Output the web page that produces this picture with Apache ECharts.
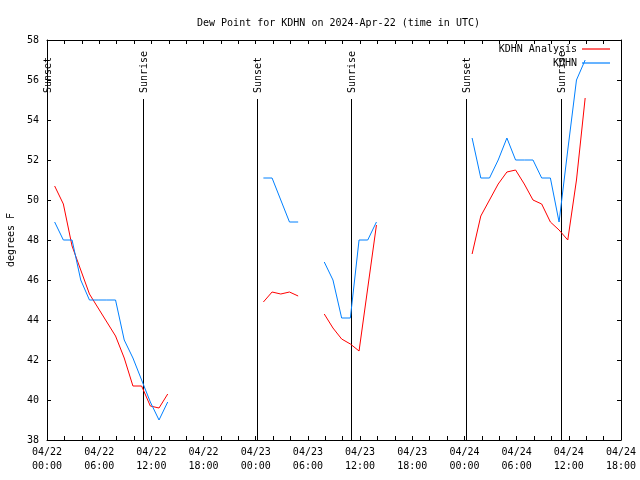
<!DOCTYPE html>
<html>
<head>
<meta charset="utf-8">
<script src="https://cdn.jsdelivr.net/npm/echarts@6/dist/echarts.min.js"></script>
<style>
html,body{margin:0;padding:0;background:#fff;}
#chart{width:640px;height:480px;}
</style>
</head>
<body>
<div id="chart"></div>
<script>
// Hours after 2024-04-22 00:00 UTC for each reading
var hours = [];
for (var i = 0; i < 62; i++) { hours.push(0.88 + i); }

// KDHN Analysis (red)
var analysis = [
  50.7, 49.8, 47.7, 46.5, 45.3, 44.6, 43.9, 43.2, 42.1, 40.7, 40.7, 39.7, 39.6, 40.3,
  null, null, null, null, null, null, null, null, null, null,
  44.9, 45.4, 45.3, 45.4, 45.2,
  null, null,
  44.3, 43.6, 43.05, 42.8, 42.45, 45.6, 48.75,
  null, null, null, null, null, null, null, null, null, null,
  47.3, 49.2, 50.0, 50.8, 51.4, 51.5, 50.8, 50.0, 49.8, 48.9, 48.5, 48.0, 51.0, 55.1
];

// KDHN observations (blue)
var observed = [
  48.9, 48.0, 48.0, 46.0, 45.0, 45.0, 45.0, 45.0, 43.0, 42.1, 41.0, 39.9, 39.0, 39.9,
  null, null, null, null, null, null, null, null, null, null,
  51.1, 51.1, 50.0, 48.9, 48.9,
  null, null,
  46.9, 46.0, 44.1, 44.1, 48.0, 48.0, 48.9,
  null, null, null, null, null, null, null, null, null, null,
  53.1, 51.1, 51.1, 52.0, 53.1, 52.0, 52.0, 52.0, 51.1, 51.1, 48.9, 52.5, 56.0, 57.0
];

// Sunset / sunrise events (hours after 04/22 00:00 UTC)
var sunHours = [0.05, 11.09, 24.12, 34.95, 48.2, 59.07];
var sunLabels = ['Sunset', 'Sunrise', 'Sunset', 'Sunrise', 'Sunset', 'Sunrise'];
var sunLineTop = 55.05;

var titleText = 'Dew Point for KDHN on 2024-Apr-22 (time in UTC)';
var seriesNames = ['KDHN Analysis', 'KDHN'];

var MONO = 'DejaVu Sans Mono';

function pair(xs, ys) {
  return xs.map(function (x, i) { return [x, ys[i]]; });
}

function xLabel(v) {
  var day = 22 + Math.floor(v / 24);
  var hr = v % 24;
  return '04/' + day + '\n' + (hr < 10 ? '0' : '') + hr + ':00';
}

var chart = echarts.init(document.getElementById('chart'), null, {renderer: 'canvas'});

var axisLineStyle = {color: '#000', width: 1};

chart.setOption({
  animation: false,
  backgroundColor: '#fff',
  title: {
    text: titleText,
    left: 192,
    top: 13,
    textStyle: {fontFamily: MONO, fontSize: 10, fontWeight: 'normal', color: '#000'}
  },
  legend: {
    data: [{name: seriesNames[0], icon: 'rect'}, {name: seriesNames[1], icon: 'rect'}],
    orient: 'vertical',
    right: 30,
    top: 43,
    align: 'right',
    itemWidth: 28,
    itemHeight: 1.2,
    itemGap: 2,
    padding: 0,
    textStyle: {fontFamily: MONO, fontSize: 10, color: '#000', lineHeight: 12}
  },
  grid: {left: 47, right: 19, top: 40, bottom: 40, containLabel: false, outerBoundsMode: 'none'},
  xAxis: [{
    type: 'value', min: 0, max: 66, interval: 6, position: 'bottom',
    axisLine: {show: true, onZero: false, lineStyle: axisLineStyle},
    axisTick: {show: true, inside: true, length: 4, lineStyle: axisLineStyle},
    minorTick: {show: true, splitNumber: 3, length: 4, lineStyle: axisLineStyle},
    splitLine: {show: false},
    axisLabel: {formatter: xLabel, fontFamily: MONO, fontSize: 10, color: '#000', lineHeight: 14, margin: 5}
  }, {
    type: 'value', min: 0, max: 66, interval: 6, position: 'top',
    axisLine: {show: true, onZero: false, lineStyle: axisLineStyle},
    axisTick: {show: true, inside: true, length: 4, lineStyle: axisLineStyle},
    minorTick: {show: true, splitNumber: 3, length: 4, lineStyle: axisLineStyle},
    splitLine: {show: false},
    axisLabel: {show: false}
  }],
  yAxis: [{
    type: 'value', min: 38, max: 58, interval: 2, position: 'left',
    name: 'degrees F', nameLocation: 'middle', nameGap: 31,
    nameTextStyle: {fontFamily: MONO, fontSize: 10, color: '#000'},
    axisLine: {show: true, onZero: false, lineStyle: axisLineStyle},
    axisTick: {show: true, inside: true, length: 4, lineStyle: axisLineStyle},
    splitLine: {show: false},
    axisLabel: {fontFamily: MONO, fontSize: 10, color: '#000', margin: 8}
  }, {
    type: 'value', min: 38, max: 58, interval: 2, position: 'right',
    axisLine: {show: true, onZero: false, lineStyle: axisLineStyle},
    axisTick: {show: true, inside: true, length: 4, lineStyle: axisLineStyle},
    splitLine: {show: false},
    axisLabel: {show: false}
  }],
  series: [{
    name: seriesNames[0],
    type: 'line',
    data: pair(hours, analysis),
    symbol: 'none',
    showSymbol: false,
    connectNulls: false,
    color: '#ff0000',
    itemStyle: {color: '#ff0000'},
    lineStyle: {color: '#ff0000', width: 1},
    z: 3
  }, {
    name: seriesNames[1],
    type: 'line',
    data: pair(hours, observed),
    symbol: 'none',
    showSymbol: false,
    connectNulls: false,
    color: '#0080ff',
    itemStyle: {color: '#0080ff'},
    lineStyle: {color: '#0080ff', width: 1},
    z: 4
  }, {
    name: 'sun',
    type: 'custom',
    data: sunHours.map(function (h) { return [h, 38]; }),
    clip: false,
    silent: true,
    z: 2,
    renderItem: function (params, api) {
      var h = api.value(0);
      var top = api.coord([h, sunLineTop]);
      var bot = api.coord([h, 38]);
      var xx = Math.round(top[0]) + 0.5;
      return {
        type: 'group',
        children: [{
          type: 'line',
          shape: {x1: xx, y1: top[1], x2: xx, y2: bot[1]},
          style: {stroke: '#000', lineWidth: 1}
        }, {
          type: 'text',
          x: xx + 1,
          y: top[1] - 6,
          rotation: Math.PI / 2,
          style: {
            text: sunLabels[params.dataIndex],
            font: '10px ' + MONO,
            fill: '#000',
            align: 'left',
            verticalAlign: 'middle'
          }
        }]
      };
    }
  }]
});
</script>
</body>
</html>
